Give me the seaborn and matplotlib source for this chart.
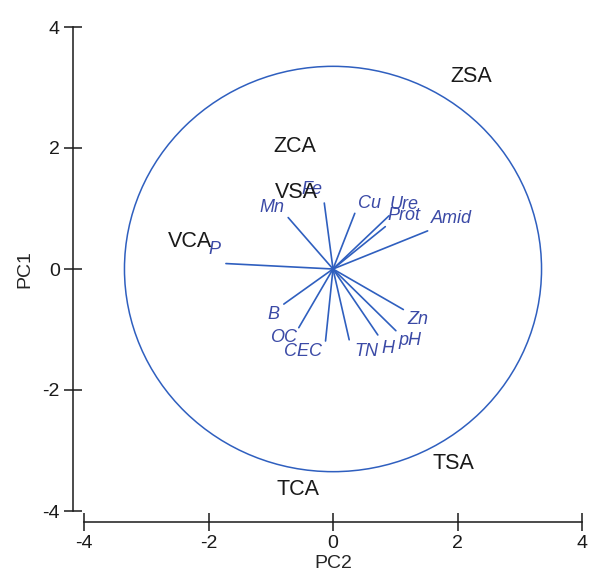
import numpy as np
import pandas as pd
import matplotlib
matplotlib.use("Agg")
import matplotlib.pyplot as plt
from matplotlib.patches import Circle
import seaborn as sns

# --- data -------------------------------------------------------------
variables = ["P", "Mn", "Fe", "Cu", "Ure", "Prot", "Amid",
             "B", "OC", "CEC", "TN", "H", "pH", "Zn"]
vec_pc2 = [-1.72, -0.72, -0.14, 0.35, 0.90, 0.84, 1.52,
           -0.79, -0.55, -0.12, 0.26, 0.72, 1.01, 1.13]
vec_pc1 = [0.09, 0.85, 1.09, 0.92, 0.88, 0.70, 0.63,
           -0.58, -0.97, -1.19, -1.17, -1.09, -1.02, -0.67]
lab_pc2 = [-1.90, -0.98, -0.34, 0.58, 1.14, 1.14, 1.90,
           -0.96, -0.79, -0.48, 0.53, 0.88, 1.24, 1.37]
lab_pc1 = [0.32, 1.02, 1.31, 1.09, 1.07, 0.88, 0.83,
           -0.76, -1.14, -1.36, -1.36, -1.32, -1.19, -0.83]

samples = ["ZSA", "ZCA", "VSA", "VCA", "TSA", "TCA"]
samp_pc2 = [2.22, -0.61, -0.58, -2.30, 1.94, -0.56]
samp_pc1 = [3.19, 2.03, 1.26, 0.46, -3.22, -3.64]

circle_radius = 3.35
ticks = [-4, -2, 0, 2, 4]

# --- style ------------------------------------------------------------
sns.set_style("ticks")
plt.rcParams["font.family"] = ["Liberation Sans", "DejaVu Sans"]
plt.rcParams["axes.unicode_minus"] = False

line_col = "#2f5fbf"
text_col = "#3b4aa6"

fig = plt.figure(figsize=(5.89, 5.79), dpi=100)
ax = fig.add_axes([84 / 589, 1 - 511 / 579, (582 - 84) / 589, (511 - 27) / 579])

# vectors as long-form table: origin and tip for each variable
rows = []
for v, x, y in zip(variables, vec_pc2, vec_pc1):
    rows.append({"var": v, "PC2": 0.0, "PC1": 0.0, "o": 0})
    rows.append({"var": v, "PC2": x, "PC1": y, "o": 1})
vec_df = pd.DataFrame(rows)
sns.lineplot(data=vec_df, x="PC2", y="PC1", units="var", estimator=None,
             sort=False, color=line_col, lw=1.2, ax=ax, legend=False)

ax.add_patch(Circle((0, 0), circle_radius, fill=False, ec=line_col, lw=1.1))

for v, x, y in zip(variables, lab_pc2, lab_pc1):
    ax.text(x, y, v, color=text_col, fontsize=13, style="italic",
            ha="center", va="center")

for s, x, y in zip(samples, samp_pc2, samp_pc1):
    ax.text(x, y, s, color="#1a1a1a", fontsize=15.5, ha="center", va="center")

ax.set_xlim(-4, 4)
ax.set_ylim(-4, 4)
ax.set_xticks(ticks)
ax.set_yticks(ticks)
ax.set_xlabel("PC2", fontsize=14, labelpad=2)
ax.set_ylabel("PC1", fontsize=14, labelpad=6)
ax.tick_params(direction="inout", length=13, width=1.1, labelsize=14,
               colors="#1a1a1a", pad=3)
for sp in ax.spines.values():
    sp.set_linewidth(1.1)
    sp.set_color("#1a1a1a")
sns.despine(ax=ax, offset=8, trim=True)

fig.savefig("out.png", dpi=100)
